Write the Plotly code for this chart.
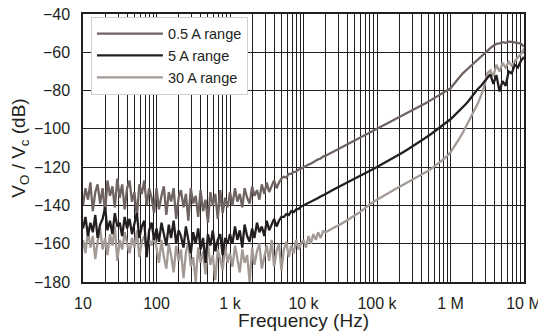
import plotly.graph_objects as go

# frequency points (Hz)
freq = [
    10, 10.8, 11.7, 12.6, 13.6, 14.7, 15.8, 17.1, 18.5, 20, 21.5, 23.3, 25.1, 27.1, 29.3,
    31.6, 34.1, 36.9, 39.8, 43, 46.4, 50.1, 54.1, 58.4, 63.1, 68.1, 73.6, 79.4, 85.8, 92.6,
    100, 108, 117, 126, 136, 147, 158, 171, 185, 200, 215, 233, 251, 271, 293,
    316, 341, 369, 398, 430, 464, 501, 541, 584, 631, 681, 736, 794, 858, 926,
    1000, 1080, 1170, 1260, 1360, 1470, 1580, 1710, 1850, 2000, 2150, 2330, 2510, 2710, 2930,
    3160, 3410, 3690, 3980, 4300, 4640, 5010, 5410, 5840, 6310, 6810, 7360, 7940, 8580, 9260,
    10000, 10800, 11700, 12600, 13600, 14700, 15800, 17100, 18500, 20000,
    26100, 31600, 38300, 46400, 56200, 68100, 82500,
    100000, 121000, 147000, 178000, 215000, 261000, 316000, 383000, 464000, 562000, 681000, 825000,
    1000000, 1100000, 1210000, 1330000, 1470000, 1620000, 1780000, 1960000, 2150000, 2370000,
    2610000, 2870000, 3160000, 3480000, 3830000, 4220000, 4640000, 5110000, 5620000, 6190000,
    6810000, 7500000, 8250000, 9090000, 10000000,
]

# 0.5 A range (dB)
r_05 = [
    -140, -131, -137, -128, -143, -133, -129, -139, -131, -144, -127, -135, -130, -141, -126,
    -136, -129, -142, -131, -127, -138, -133, -146, -129, -134, -127, -140, -131, -136, -144,
    -131, -142, -135, -130, -145, -133, -138, -131, -147, -136, -132, -141, -134, -148, -131,
    -139, -135, -146, -132, -143, -137, -149, -133, -140, -134, -147, -132, -144, -136, -141,
    -133, -140, -131, -138, -134, -141, -131, -136, -139, -130, -135, -132, -137, -129, -134,
    -128, -133, -130, -127, -131, -128, -126, -125, -125.5, -123.5, -123.5, -122.5, -122.3, -121.2, -120.8,
    -120, -119.6, -118.6, -118.2, -117.3, -116.8, -115.9, -115.5, -114.5, -114,
    -111.7, -110, -108.3, -106.7, -105, -103.3, -101.7,
    -100, -98.3, -96.7, -95, -93.3, -91.6, -89.9, -88.2, -86.5, -84.6, -82.7, -80.8,
    -78.8, -76.8, -74.8, -72.8, -71, -69.5, -68, -66.4, -65, -63.5,
    -62, -60.6, -59.2, -57.8, -56.6, -55.6, -55.3, -54.7, -55.1, -54.5,
    -54.6, -54.9, -55, -55.5, -57,
]

# 5 A range (dB)
r_5 = [
    -152, -146, -156, -149, -154, -145, -157, -150, -147, -141, -153, -148, -155, -144, -151,
    -149, -156, -146, -152, -147, -155, -150, -144, -157, -151, -148, -167, -153, -149, -158,
    -152, -159, -149, -155, -161, -150, -157, -148, -160, -153, -156, -162, -151, -158, -165,
    -154, -160, -152, -163, -157, -170, -155, -161, -153, -164, -158, -155, -166, -157, -160,
    -155, -160, -151, -158, -153, -162, -150, -156, -159, -152, -157, -149, -154, -151, -156,
    -148, -153, -150, -147, -151, -148, -146, -146, -144.5, -145, -143, -143.5, -142, -141.8, -140.6,
    -140, -139.2, -138.6, -137.9, -137.3, -136.6, -136.1, -135.3, -134.7, -134,
    -131.6, -130, -128.3, -126.7, -125, -123.3, -121.6,
    -119.9, -118.2, -116.4, -114.6, -112.7, -110.8, -108.8, -106.7, -104.5, -102.3, -100, -97.5,
    -95, -93.5, -92, -90.4, -88.8, -87, -85.2, -83, -81, -79,
    -77.5, -75.5, -73.5, -71.5, -76.5, -72, -80.5, -75, -77.5, -70,
    -71, -66.5, -68, -64.5, -62.5,
]

# 30 A range (dB)
r_30 = [
    -158, -165, -153, -162, -156, -168, -159, -152, -163, -157, -166, -155, -161, -151, -169,
    -158, -163, -154, -160, -165, -157, -162, -153, -167, -159, -156, -164, -158, -161, -155,
    -162, -170, -158, -167, -173, -160, -166, -175, -161, -169, -163, -178, -165, -159, -172,
    -167, -180, -162, -170, -164, -176, -160, -171, -166, -179, -163, -168, -174, -161, -170,
    -165, -172, -161, -168, -175, -163, -170, -166, -180, -162, -171, -164, -160, -173, -166,
    -161, -169, -158, -172, -164, -160, -174, -163, -159, -167, -161, -165, -158, -163, -160,
    -158, -162, -156, -160, -155, -158, -154, -157, -153.5, -154,
    -151.5, -150, -148, -146, -144, -141.5, -139,
    -137, -135, -133.2, -131.4, -129.7, -128, -126.3, -124.5, -122.6, -120.5, -118.2, -115.5,
    -112.3, -110, -107.5, -104.8, -102, -99, -96, -93, -90, -86.5,
    -82.5, -78, -71, -69.5, -72.5, -66.5, -70, -65.5, -68, -65,
    -67, -64.5, -62.5, -61, -58,
]

x_tickvals = [10, 100, 1000, 10000, 100000, 1000000, 10000000]
x_ticktext = ["10", "100", "1 k", "10 k", "100 k", "1 M", "10 M"]

ink = "#231f20"
fig = go.Figure()
fig.add_trace(go.Scatter(x=freq, y=r_30, name="30 A range", mode="lines",
                         line=dict(color="#a39a96", width=2.3), legendrank=3))
fig.add_trace(go.Scatter(x=freq, y=r_05, name="0.5 A range", mode="lines",
                         line=dict(color="#6f6461", width=2.3), legendrank=1))
fig.add_trace(go.Scatter(x=freq, y=r_5, name="5 A range", mode="lines",
                         line=dict(color=ink, width=2.3), legendrank=2))

# the page adds an 8 px body margin, so the figure is sized to the remaining area
fig.update_layout(
    width=538, height=323,
    margin=dict(l=75, r=22, t=6, b=49),
    paper_bgcolor="white", plot_bgcolor="white",
    font=dict(family="Liberation Sans, Arial, sans-serif", size=16, color=ink),
    showlegend=True,
    legend=dict(x=0.018, y=0.99, xanchor="left", yanchor="top",
                bgcolor="white", bordercolor="#d0d0d0", borderwidth=1,
                font=dict(size=14.5), itemwidth=66, tracegroupgap=0),
)
fig.update_xaxes(
    type="log", range=[1, 7], automargin=False,
    tickvals=x_tickvals, ticktext=x_ticktext,
    showgrid=True, gridcolor=ink, gridwidth=1,
    minor=dict(dtick="D1", showgrid=True, gridcolor=ink, gridwidth=1),
    showline=True, linecolor=ink, linewidth=1.5, mirror=True,
    ticks="", ticklabelstandoff=6, ticklabeloverflow="allow",
    title=dict(text="Frequency (Hz)", standoff=6),
)
fig.update_yaxes(
    range=[-180, -40], dtick=20, automargin=False,
    showgrid=True, gridcolor=ink, gridwidth=1, zeroline=False,
    showline=True, linecolor=ink, linewidth=1.5, mirror=True,
    ticks="", ticklabelstandoff=8, ticklabeloverflow="allow",
    title=dict(text="V<sub>O</sub> / V<sub>c</sub> (dB)", standoff=6),
)

fig.write_html("out.html")
